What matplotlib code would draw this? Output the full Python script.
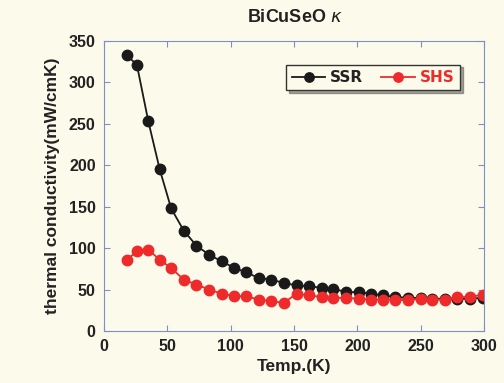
import matplotlib
matplotlib.use("Agg")
import matplotlib.pyplot as plt
from matplotlib import font_manager

temps = [18, 26, 35, 44, 53, 63, 73, 83, 93, 103, 112, 122, 132, 142, 152,
         162, 172, 181, 191, 201, 211, 220, 230, 240, 250, 259, 269, 279, 289, 299]
ssr = [333, 321, 253, 195, 148, 121, 103, 92, 84, 76, 71, 64, 62, 58, 55,
       54, 52, 51, 47, 47, 45, 43, 41, 40, 40, 39, 39, 39, 39, 40]
shs = [86, 96, 98, 86, 76, 62, 56, 50, 45, 42, 42, 38, 36, 34, 45,
       43, 41, 40, 40, 39, 38, 38, 38, 37, 39, 38, 38, 41, 41, 44]
xticks = [0, 50, 100, 150, 200, 250, 300]
yticks = [0, 50, 100, 150, 200, 250, 300, 350]

bg = "#fcfaea"
spine_c = "#7d8fc8"
names = {f.name for f in font_manager.fontManager.ttflist}
if "Liberation Sans Narrow" in names:
    narrow = "Liberation Sans Narrow"
elif "DejaVu Sans Condensed" in names:
    narrow = "DejaVu Sans Condensed"
else:
    narrow = "DejaVu Sans"

plt.rcParams['font.family'] = ['Liberation Sans', 'DejaVu Sans']

fig = plt.figure(figsize=(5.04, 3.83), dpi=100, facecolor=bg)
ax = fig.add_axes([104/504, 1-331/383, (484-104)/504, (331-41)/383])
ax.set_facecolor(bg)

l1, = ax.plot(temps, ssr, '-o', color='#1a1a1a', ms=7.5, lw=1.3, label='SSR')
l2, = ax.plot(temps, shs, '-o', color='#ee2a2a', ms=7.5, lw=1.3, label='SHS')

ax.set_xlim(0, 300)
ax.set_ylim(0, 350)
ax.set_xticks(xticks)
ax.set_yticks(yticks)
ax.tick_params(direction='in', top=True, right=True, length=4, width=0.8,
               color=spine_c, labelsize=11.5, pad=6)
for lab in ax.get_xticklabels() + ax.get_yticklabels():
    lab.set_fontweight('bold')
    lab.set_color('#222222')
for s in ax.spines.values():
    s.set_color(spine_c)
    s.set_linewidth(0.8)

ax.set_xlabel('Temp.(K)', fontsize=12.5, fontweight='bold', color='#222222', labelpad=3)
ax.set_ylabel('thermal conductivity(mW/cmK)', fontsize=12.5, fontweight='bold',
              color='#222222', labelpad=6)
fig.text(0.585, 0.955, 'BiCuSeO $\\kappa$', ha='center', va='center', fontsize=13,
         fontweight='bold', color='#222222')

leg = ax.legend(handles=[l1, l2], loc='upper left', bbox_to_anchor=(0.46, 0.945),
                ncol=2, frameon=True, fancybox=False, shadow=True,
                handlelength=2.2, handletextpad=0.3, columnspacing=1.2,
                borderpad=0.35, markerscale=0.9,
                prop={'family': narrow, 'weight': 'bold', 'size': 11})
leg.get_frame().set_edgecolor('#333333')
leg.get_frame().set_facecolor(bg)
leg.get_frame().set_linewidth(1.0)
leg.get_texts()[0].set_color('#222222')
leg.get_texts()[1].set_color('#ee2a2a')

fig.savefig('out.png', dpi=100, facecolor=bg)
